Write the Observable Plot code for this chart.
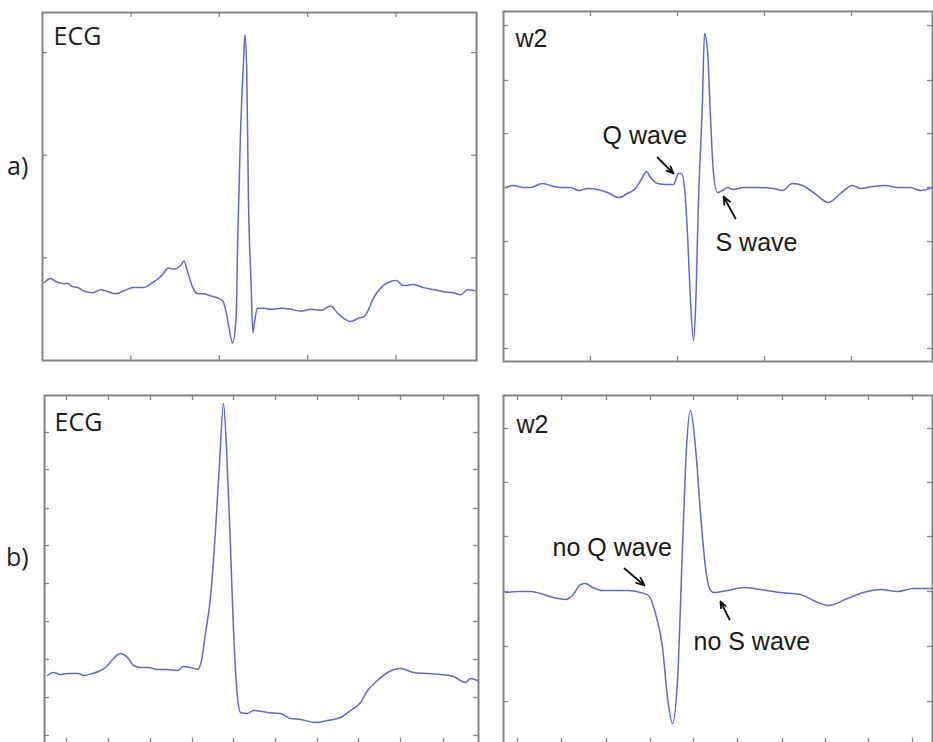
<!DOCTYPE html>
<html><head><meta charset="utf-8">
<script src="https://cdn.jsdelivr.net/npm/d3@7"></script>
<script src="https://cdn.jsdelivr.net/npm/@observablehq/plot@0.6"></script>
<style>
html,body{margin:0;padding:0;background:#fff;overflow:hidden;width:933px;height:742px;}
#root{position:relative;width:933px;height:742px;overflow:hidden;background:#fff;}
.rowlabel{position:absolute;font-family:"Open Sans",sans-serif;font-size:25px;line-height:25px;color:#222;}
</style></head><body><div id="root"></div>
<script>
// ---------- Data ----------
// Row a) ECG
const aEcgX = [2,9,15,23,28,34,40,46,57,66,74,83,92,103,114,125,134,143,148,156,160,164,170,176,182,190,198,204,207,211,215,219,221,224,228,229,231,233,236,238,240,243,250,258,270,281,292,304,315,326,334,341,349,357,364,368,374,383,391,400,408,420,431,443,454,465,473,481,490];
const aEcgY = [-24,-20,-23,-25,-25,-28,-29,-32,-34,-31,-33,-35,-32,-29,-29,-24,-18,-10,-11,-8,-3,-13,-29,-35,-35,-37,-39,-42,-50,-68,-83,-59,23,121,202,217,185,56,-25,-73,-62,-49,-49,-50,-49,-50,-52,-50,-51,-47,-54,-59,-62,-59,-57,-52,-40,-29,-24,-22,-27,-26,-29,-31,-33,-34,-36,-31,-32];
// Row a) w2
const aW2X = [2,10,20,27,39,47,57,67,75,84,94,104,115,124,132,139,143,147,154,162,170,175,178,181,184,187,190,192,195,199,201,204,207,210,214,219,224,230,240,254,270,279,289,299,310,325,337,349,357,369,382,394,407,417,429];
const aW2Y = [0,2,0,0,4,2,0,0,-3,-1,-2,-5,-10,-6,-1,10,16,10,4,3,3,14,14,0,-46,-113,-153,-123,-13,87,154,137,70,14,-5,-3,0,-2,0,0,-1,-3,4,2,-5,-15,-6,2,-1,1,2,0,0,-3,0];
// Row b) ECG
const bEcgX = [3,9,16,24,34,39,48,56,63,69,76,83,89,96,104,113,123,133,139,146,153,157,161,166,171,175,179,182,186,189,193,196,203,209,223,236,246,256,271,283,296,306,316,323,333,343,356,369,383,396,409,421,426,433];
const bEcgY = [68,71,69,70,70,68,70,73,78,85,90,86,78,76,76,74,74,73,77,76,74,83,110,146,213,280,340,296,196,113,46,31,30,33,31,30,25,24,21,23,26,33,41,53,63,71,75,71,70,69,67,61,65,63];
// Row b) w2
const bW2X = [2,14,27,37,50,62,69,77,82,89,99,110,124,137,145,152,159,164,169,174,179,183,187,192,197,202,206,210,224,240,257,277,297,310,325,344,360,377,394,410,429];
const bW2Y = [-1,0,0,-2,-6,-8,-4,7,8,4,1,1,1,-1,-4,-22,-56,-106,-132,-89,44,144,181,144,78,24,3,-1,1,4,2,-1,-3,-9,-14,-7,-1,2,0,3,3];

// Tick positions (unlabelled, MATLAB-style inward ticks)
const aEcgXTicks = [100,200,300,400];
const aEcgYTicks = [0,100,200];
const aW2XTicks = [87,174,261,348];
const aW2YTicks = [162,107,54,0,-54,-107,-161];
const bEcgXTicks = [22,64,106,148,189,231,273,314,356,399];
const bEcgYTicks = [8,46,84,122,160,198,235,274,311];
const bW2XTicks = [14,58,103,147,190,234,279,322,365,409];
const bW2YTicks = [163,109,55,0,-55,-110];

// Annotations
const aW2Notes = [{x: 99, y: 44, text: "Q wave"}, {x: 212, y: -63, text: "S wave"}];
const aW2Arrows = [{x1: 154, y1: 30, x2: 170, y2: 14}, {x1: 232, y1: -31, x2: 220, y2: -9}];
const bW2Notes = [{x: 49, y: 36, text: "no Q wave"}, {x: 190, y: -58, text: "no S wave"}];
const bW2Arrows = [{x1: 121, y1: 23, x2: 141, y2: 6}, {x1: 226, y1: -28, x2: 217, y2: -10}];

// ---------- Drawing ----------
const TRACE = "#6368cd";
const FRAME = "#858585";
const TICK = 5;
const root = document.getElementById("root");

function panel(o) {
  const m = 6;
  const data = o.xs.map((x, i) => ({x, y: o.ys[i]}));
  const chart = Plot.plot({
    width: o.w + 2 * m, height: o.h + 2 * m,
    marginTop: m, marginRight: m, marginBottom: m, marginLeft: m,
    x: {domain: o.xDomain, axis: null},
    y: {domain: o.yDomain, axis: null},
    style: {background: "transparent", overflow: "visible"},
    marks: [
      Plot.line(data, {x: "x", y: "y", stroke: TRACE, strokeWidth: 1.5, curve: "monotone-x"}),
      Plot.ruleX(o.xTicks, {stroke: FRAME, strokeWidth: 1.3, insetTop: o.h - TICK}),
      Plot.ruleX(o.xTicks, {stroke: FRAME, strokeWidth: 1.3, insetBottom: o.h - TICK}),
      Plot.ruleY(o.yTicks, {stroke: FRAME, strokeWidth: 1.3, insetRight: o.w - TICK}),
      Plot.ruleY(o.yTicks, {stroke: FRAME, strokeWidth: 1.3, insetLeft: o.w - TICK}),
      Plot.frame({stroke: FRAME, strokeWidth: 2}),
      Plot.text([o.label], {text: d => d, frameAnchor: "top-left", dx: o.labelDx, dy: o.labelDy,
        lineAnchor: "top", textAnchor: "start", fontSize: 25, fontFamily: o.labelFont, fill: "#1e1e1e"}),
      Plot.text(o.notes || [], {x: "x", y: "y", text: "text", textAnchor: "start", lineAnchor: "bottom",
        fontSize: 25, fontFamily: "'Liberation Sans', Arial, sans-serif", fill: "#1a1a1a"}),
      Plot.arrow(o.arrows || [], {x1: "x1", y1: "y1", x2: "x2", y2: "y2", stroke: "#111",
        strokeWidth: 1.8, headLength: 8, headAngle: 45})
    ]
  });
  chart.style.position = "absolute";
  chart.style.left = (o.left - m) + "px";
  chart.style.top = (o.top - m) + "px";
  root.appendChild(chart);
}

panel({xs: aEcgX, ys: aEcgY, xDomain: [0, 491], yDomain: [-100, 239], xTicks: aEcgXTicks, yTicks: aEcgYTicks,
  left: 42, top: 12, w: 434, h: 348, label: "ECG", labelFont: "'Open Sans', sans-serif", labelDx: 11, labelDy: 15});
panel({xs: aW2X, ys: aW2Y, xDomain: [0, 429], yDomain: [-174, 176], xTicks: aW2XTicks, yTicks: aW2YTicks,
  left: 503, top: 11, w: 429, h: 350, label: "w2", labelFont: "'Liberation Sans', Arial, sans-serif", labelDx: 12, labelDy: 18,
  notes: aW2Notes, arrows: aW2Arrows});
panel({xs: bEcgX, ys: bEcgY, xDomain: [0, 434], yDomain: [0, 348], xTicks: bEcgXTicks, yTicks: bEcgYTicks,
  left: 44, top: 395, w: 434, h: 348, label: "ECG", labelFont: "'Open Sans', sans-serif", labelDx: 10, labelDy: 18});
panel({xs: bW2X, ys: bW2Y, xDomain: [0, 429], yDomain: [-152, 196], xTicks: bW2XTicks, yTicks: bW2YTicks,
  left: 503, top: 395, w: 429, h: 348, label: "w2", labelFont: "'Liberation Sans', Arial, sans-serif", labelDx: 13, labelDy: 20,
  notes: bW2Notes, arrows: bW2Arrows});

// Row labels
const rowLabels = [{text: "a)", left: 7, top: 153}, {text: "b)", left: 6, top: 544}];
rowLabels.forEach(r => {
  const d = document.createElement("div");
  d.className = "rowlabel";
  d.textContent = r.text;
  d.style.left = r.left + "px";
  d.style.top = r.top + "px";
  root.appendChild(d);
});
</script></body></html>
